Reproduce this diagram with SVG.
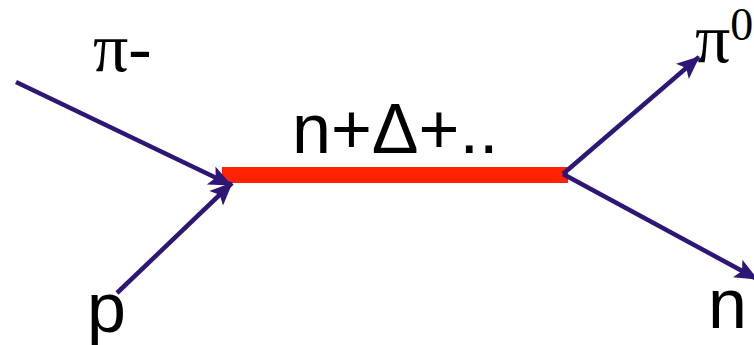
<svg xmlns="http://www.w3.org/2000/svg" width="754" height="345" viewBox="0 0 754 345">
<style>
.ln{stroke:#2D1676;stroke-width:4.5;fill:none;marker-end:url(#ah)}
.sans{font-family:"Liberation Sans",Arial,sans-serif;fill:#000}
.serif{font-family:"Liberation Serif","Times New Roman",serif;fill:#000}
</style>
<defs>
<marker id="ah" markerUnits="userSpaceOnUse" markerWidth="26" markerHeight="22" refX="22" refY="10" orient="auto" viewBox="0 0 26 22">
<path d="M0,0 L23,10 L0,20 L5,10 z" fill="#2D1676"/>
</marker>
</defs>
<g id="propagator">
<rect x="222" y="167" width="346" height="16" fill="#FF2200"/>
<text class="sans" x="292" y="153" font-size="70">n+Δ+..</text>
</g>
<g id="connectors">
<line class="ln" x1="16" y1="82" x2="231" y2="185"/>
<line class="ln" x1="117" y1="293" x2="232" y2="183"/>
<line class="ln" x1="563" y1="174" x2="699" y2="57"/>
<line class="ln" x1="563" y1="174" x2="757" y2="279"/>
</g>
<g id="pi-minus"><text class="serif" x="93" y="71" font-size="70">π-</text></g>
<g id="proton"><text class="sans" x="87" y="332" font-size="70">p</text></g>
<g id="pi-zero"><text class="serif" x="695" y="62" font-size="70">π<tspan font-size="46" dy="-22">0</tspan></text></g>
<g id="neutron"><text class="sans" x="708" y="328" font-size="70">n</text></g>
</svg>
